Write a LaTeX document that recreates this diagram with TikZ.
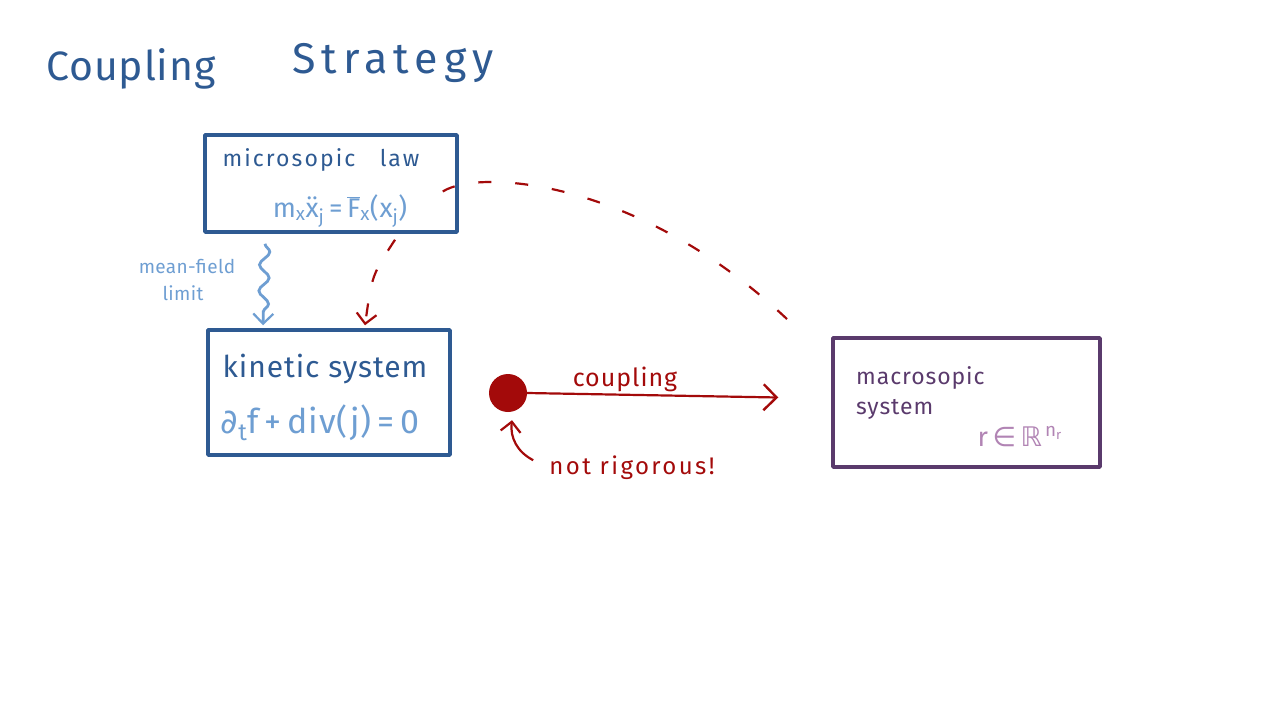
\documentclass[tikz,border=0pt]{standalone}
\usepackage{fontspec}
\setmainfont{Fira Sans}
\newfontfamily\symfont{DejaVu Sans}
\usetikzlibrary{arrows.meta,decorations.pathmorphing,calc}
\definecolor{dblue}{HTML}{2E5A92}
\definecolor{lblue}{HTML}{6E9ED2}
\definecolor{dred}{HTML}{A30A0A}
\definecolor{dpurple}{HTML}{5A3A6C}
\definecolor{lpurple}{HTML}{B184B4}
\newcommand{\fs}[2]{\fontsize{#1}{#1}\selectfont\addfontfeature{LetterSpace=#2}}
\begin{document}
\begin{tikzpicture}[x=1pt,y=-1pt,
  sketchbox/.style={draw,line width=3.5pt,line join=round,inner sep=0pt},
  lbl/.style={inner sep=0pt,anchor=base},
  redtip/.style={-{Straight Barb[length=13pt,width=26pt,line width=2.4pt]}},
  smalltip/.style={-{Straight Barb[length=10pt,width=20pt,line width=2.2pt]}}]
\useasboundingbox (0,0) rectangle (1280,720);
% title
\node[lbl,dblue,font=\fs{41}{2}] (t1) at (131,80) {Coupling};
\node[lbl,dblue,font=\fs{43}{14}] (t2) at (393,73) {Strategy};
% boxes
\node[sketchbox,dblue,minimum width=252pt,minimum height=97pt] (mic) at (331,183.5) {};
\node[sketchbox,dblue,minimum width=242pt,minimum height=125pt] (kin) at (329,392.5) {};
\node[sketchbox,dpurple,minimum width=267pt,minimum height=129pt] (mac) at (966.5,402.5) {};
% box texts
\node[lbl,dblue,font=\fs{23}{9}] (mictext) at (321,166) {microsopic\ \ \ law};
\node[lbl,lblue,font=\fs{27}{3}] (micform) at (340,217) {m\textsubscript{x}\"{x}\textsubscript{j}\,=\,$\overline{\mbox{F}}$\textsubscript{x}(x\textsubscript{j})};
\node[lbl,dblue,font=\fs{30}{3}] (kintext) at (325,377) {kinetic system};
\node[lbl,lblue,font=\fs{34}{3}] (kinform) at (320,433) {{\symfont∂}\textsubscript{t}f\,+\,div(j)\,=\,0};
\node[lbl,dpurple,font=\fs{23}{4},anchor=base west] (mactext1) at (856,384) {macrosopic};
\node[lbl,dpurple,font=\fs{23}{4},anchor=base west] (mactext2) at (856,414) {system};
\node[lbl,lpurple,font=\fs{27}{2}] (macform) at (1020,446) {r\,{\symfont∈}\,{\symfont ℝ}\textsuperscript{\,n\textsubscript{r}}};
% mean-field limit
\draw[lblue,line width=2.8pt,decorate,decoration={snake,segment length=26pt,amplitude=5pt,post length=12pt},
  smalltip] ($(mic.south)+(-66,10)$) -- ($(kin.north)+(-66,-3)$);
\node[lbl,lblue,font=\fs{19}{2}] (mfl1) at (187,273) {mean-field};
\node[lbl,lblue,font=\fs{19}{2}] (mfl2) at (183,300) {limit};
% red dashed arrows
\draw[dred,line width=2.2pt,dash pattern=on 13pt off 22pt,smalltip] ($(mic.south)+(64,6)$) .. controls (372,275) .. ($(kin.north)+(36,-3)$);
\coordinate (cend) at ($(mac.north west)+(-43,-16)$);
\draw[dred,line width=2.2pt,dash pattern=on 13pt off 24pt] ($(mic.east)+(-16,8)$) .. controls (480,168) and (640,180) .. (cend);
% coupling
\node[circle,fill=dred,minimum size=38pt,inner sep=0pt] (dot) at (508,393) {};
\coordinate (aend) at ($(mac.west)+(-53,-5)$);
\draw[dred,line width=2.2pt,redtip] (dot.east) -- (aend);
\node[lbl,dred,font=\fs{25}{4}] (cpl) at (625,386) {coupling};
\node[lbl,dred,font=\fs{24}{10}] (nr) at (632,474) {not rigorous!};
\draw[dred,line width=2.2pt,smalltip] ($(nr.west)+(-16,-7)$) to[bend left=35] ($(dot.south)+(4,8)$);
\end{tikzpicture}
\end{document}
